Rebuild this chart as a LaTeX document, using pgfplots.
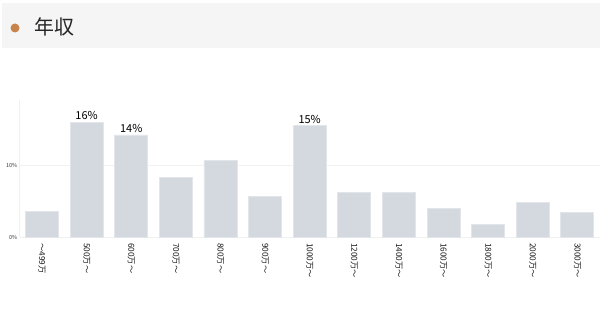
\documentclass[border=0pt]{standalone}
\usepackage{fontspec}
\setmainfont{Noto Sans CJK JP}
\usepackage{pgfplots}
\pgfplotsset{compat=1.18}
\definecolor{barfill}{HTML}{D3D9DF}
\definecolor{barline}{HTML}{E2E6EA}
\definecolor{headbg}{HTML}{F5F5F5}
\definecolor{dotc}{HTML}{C8834B}
\begin{document}
\begin{tikzpicture}
\fill[white] (0bp,0bp) rectangle (600bp,327bp);
\fill[headbg] (2bp,324bp) rectangle (600bp,279bp);
\fill[dotc] (15bp,299bp) circle (4.5bp);
\node[anchor=west, inner sep=0pt, font=\fontsize{20}{24}\selectfont, text=black!85] at (34bp,300bp) {年収};
\begin{axis}[
  at={(19.7bp,90bp)}, anchor=south west,
  scale only axis, width=580bp, height=136.5bp,
  xmin=-0.5, xmax=12.5, ymin=0, ymax=19,
  clip=false,
  /pgf/number format/assume math mode=true,
  axis x line*=bottom, axis y line*=left,
  axis line style={draw=gray!12, line width=0.6pt},
  ytick={0,10}, yticklabels={0\%,10\%},
  y tick label style={font=\fontsize{5.5}{6}\selectfont, text=black!80, xshift=1bp},
  major tick length=0pt,
  ymajorgrids, grid style={draw=gray!10, line width=0.5pt},
  xtick={0,...,12},
  xticklabels={～499万,500万～,600万～,700万～,800万～,900万～,1000万～,1200万～,1400万～,1600万～,1800万～,2000万～,3000万～},
  x tick label style={rotate=-90, anchor=west, font=\fontsize{8.3}{9}\selectfont, text=black!90, inner xsep=0pt},
  xticklabel shift=6bp,
]
\addplot[ybar, bar width=33bp, fill=barfill, draw=barline, line width=0.8pt,
  nodes near coords, point meta=explicit symbolic,
  every node near coord/.append style={font=\fontsize{11}{12}\selectfont, text=black, inner sep=2bp}]
  table[meta=lab] {
x y lab
0 3.5 {}
1 16.0 16\%
2 14.2 14\%
3 8.3 {}
4 10.6 {}
5 5.65 {}
6 15.5 15\%
7 6.2 {}
8 6.2 {}
9 4.0 {}
10 1.8 {}
11 4.75 {}
12 3.4 {}
};
\end{axis}
\useasboundingbox (0bp,0bp) rectangle (600bp,327bp);
\end{tikzpicture}
\end{document}
